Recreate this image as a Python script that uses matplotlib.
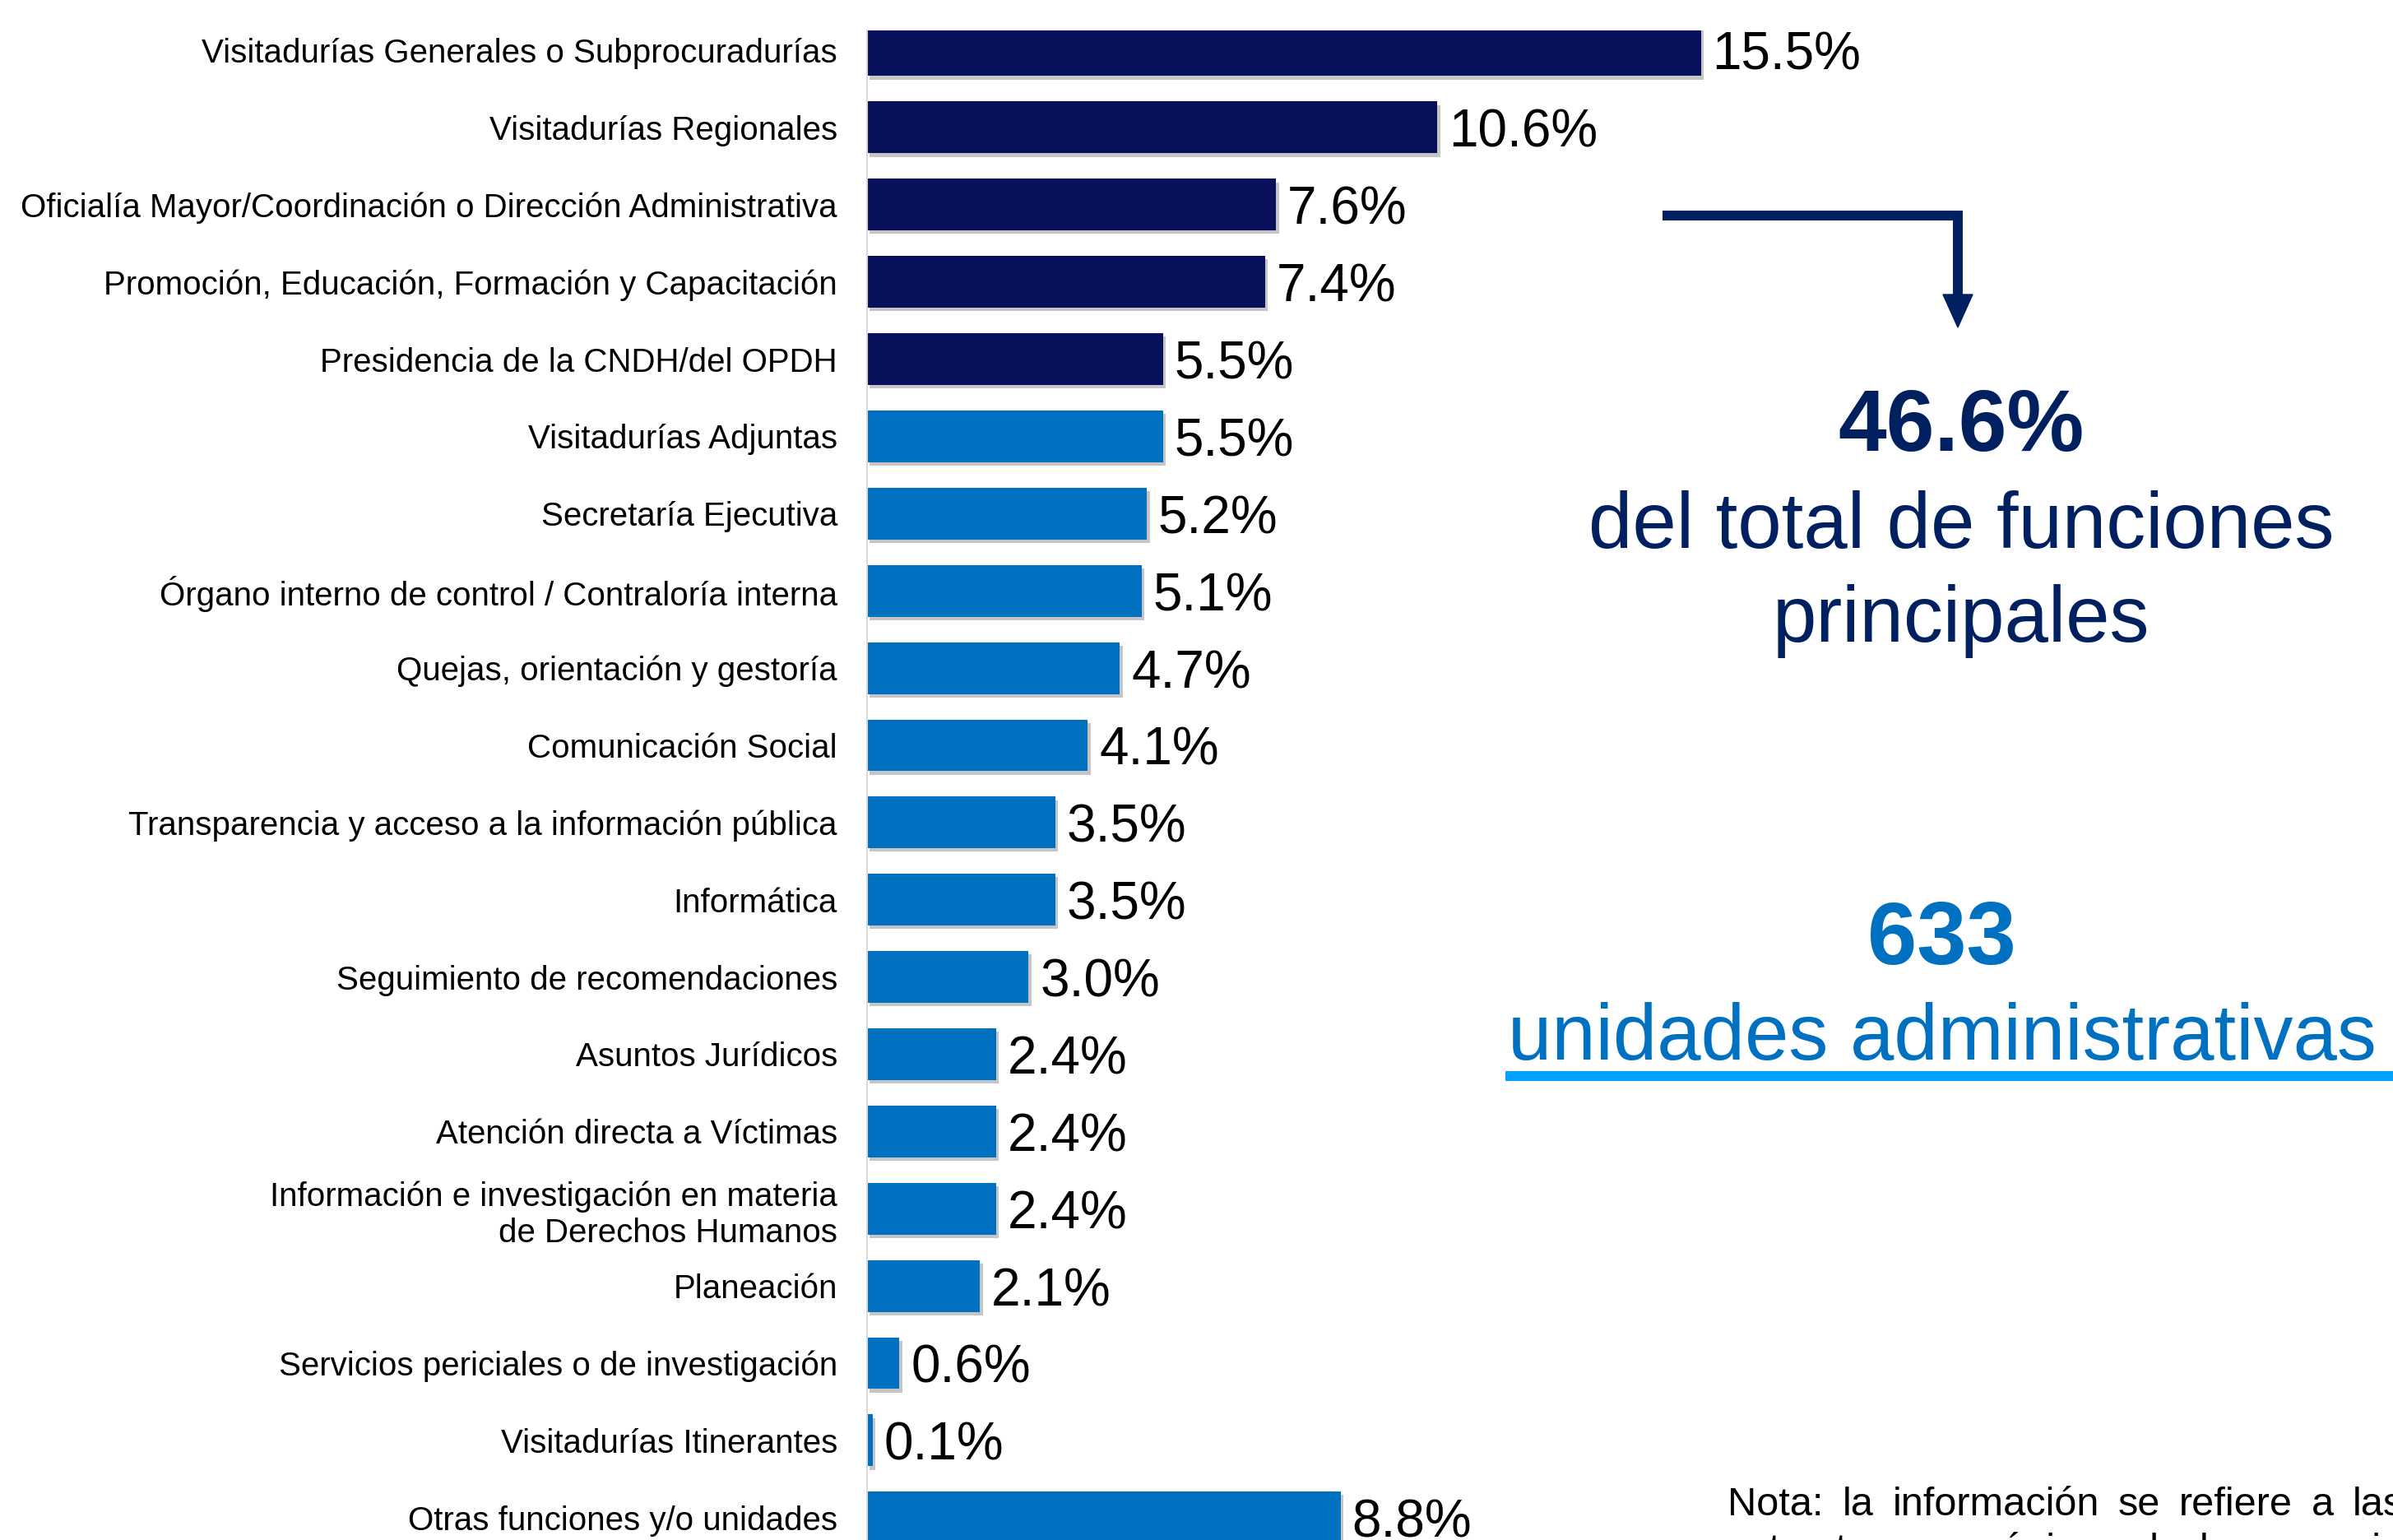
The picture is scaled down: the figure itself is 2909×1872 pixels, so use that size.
import matplotlib
matplotlib.use("Agg")
import matplotlib.pyplot as plt
import matplotlib.patheffects as pe
from matplotlib.patches import Polygon

plt.rcParams['font.family'] = ['Liberation Sans', 'DejaVu Sans']

categorias = [
    "Visitadurías Generales o Subprocuradurías",
    "Visitadurías Regionales",
    "Oficialía Mayor/Coordinación o Dirección Administrativa",
    "Promoción, Educación, Formación y Capacitación",
    "Presidencia de la CNDH/del OPDH",
    "Visitadurías Adjuntas",
    "Secretaría Ejecutiva",
    "Órgano interno de control / Contraloría interna",
    "Quejas, orientación y gestoría",
    "Comunicación Social",
    "Transparencia y acceso a la información pública",
    "Informática",
    "Seguimiento de recomendaciones",
    "Asuntos Jurídicos",
    "Atención directa a Víctimas",
    "Información e investigación en materia\nde Derechos Humanos",
    "Planeación",
    "Servicios periciales o de investigación",
    "Visitadurías Itinerantes",
    "Otras funciones y/o unidades",
]
porcentajes = [15.5, 10.6, 7.6, 7.4, 5.5, 5.5, 5.2, 5.1, 4.7, 4.1,
               3.5, 3.5, 3.0, 2.4, 2.4, 2.4, 2.1, 0.6, 0.1, 8.8]
n_principales = 5  # las primeras cinco suman 46.6%

total_principales = "46.6%"
unidades = "633"
nota_lineas = ["Nota: la información se refiere a las",
               "estructuras orgánicas de los organismos de protección"]

W, H = 2909, 1872
fig = plt.figure(figsize=(W / 100, H / 100), dpi=100)

ax = fig.add_axes([1054 / W, 0, 1 - 1054 / W, 1 - 37 / H])
colores = ['#08105C' if i < n_principales else '#0070C0' for i in range(len(porcentajes))]
ypos = list(range(len(porcentajes)))
bars = ax.barh(ypos, porcentajes, height=0.67, color=colores, zorder=3)
for b in bars:
    b.set_path_effects([pe.SimplePatchShadow(offset=(2.5, -3), shadow_rgbFace='#7f7f7f', alpha=0.45),
                        pe.Normal()])

for y, v in zip(ypos, porcentajes):
    ax.annotate(f"{v:.1f}%", (v, y), xytext=(10, -5), textcoords='offset points',
                va='center', ha='left', fontsize=46, color='black')

ax.set_xlim(0, 1855 / 65.4)
ax.set_ylim(19.29, -0.256)
ax.set_yticks(ypos)
ax.set_yticklabels(categorias, fontsize=29, color='black')
ax.tick_params(axis='y', length=0, pad=26)
ax.set_xticks([])
for s in ['top', 'right', 'bottom']:
    ax.spines[s].set_visible(False)
ax.spines['left'].set_color('#D9D9D9')
ax.spines['left'].set_linewidth(1.5)
ax.spines['left'].set_zorder(4)

# capa de anotaciones en pixeles de la figura
ov = fig.add_axes([0, 0, 1, 1])
ov.set_xlim(0, W)
ov.set_ylim(H, 0)
ov.axis('off')

azul_osc = '#002060'
ov.plot([2021, 2380, 2380], [262, 262, 362], color=azul_osc, lw=8.6,
        solid_joinstyle='miter', solid_capstyle='butt')
ov.add_patch(Polygon([[2362, 358], [2398, 358], [2380, 398]], closed=True, color=azul_osc))

ov.text(2384, 548, total_principales, ha='center', va='baseline', fontsize=76,
        fontweight='bold', color=azul_osc)
ov.text(2384, 666, "del total de funciones", ha='center', va='baseline', fontsize=69, color=azul_osc)
ov.text(2384, 780, "principales", ha='center', va='baseline', fontsize=69, color=azul_osc)

ov.text(2360, 1172, unidades, ha='center', va='baseline', fontsize=78,
        fontweight='bold', color='#0070C0')
ov.text(2361, 1288, "unidades administrativas", ha='center', va='baseline', fontsize=69, color='#0070C0')
ov.plot([1830, W], [1308, 1308], color='#00A2FF', lw=8.6, solid_capstyle='butt')

# nota justificada (el bloque sigue fuera del borde derecho/inferior)
fig.canvas.draw()
renderer = fig.canvas.get_renderer()
x0, x1 = 2100, 2922
hueco = None
for k, linea in enumerate(nota_lineas):
    base = 1842 + k * 56
    palabras = linea.split()
    textos = [ov.text(x0, base, p, ha='left', va='baseline', fontsize=35, color='black')
              for p in palabras]
    anchos = [t.get_window_extent(renderer).width for t in textos]
    if hueco is None:
        hueco = (x1 - x0 - sum(anchos)) / (len(palabras) - 1)
    x = x0
    for t, a in zip(textos, anchos):
        t.set_x(x)
        x += a + hueco

fig.savefig("out.png", dpi=100)
